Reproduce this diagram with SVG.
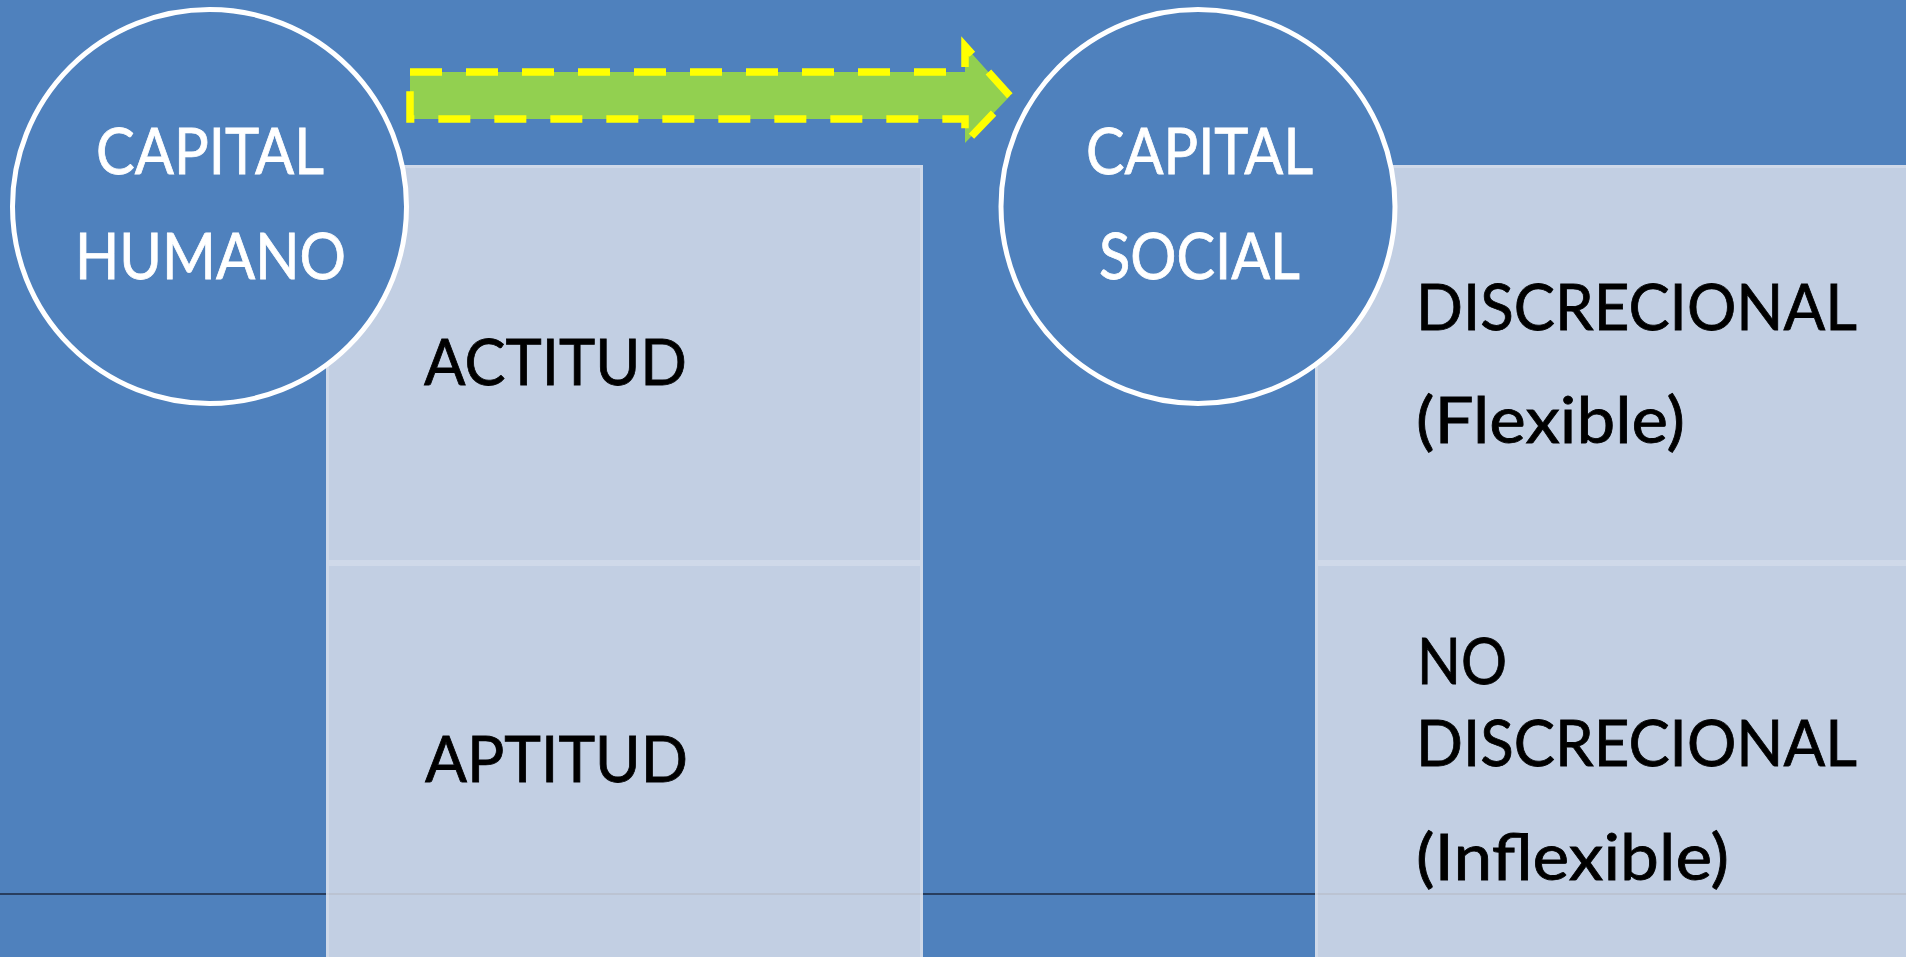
<svg xmlns="http://www.w3.org/2000/svg" width="1906" height="957" viewBox="0 0 1906 957">
<style>
.panel{fill:#DCE1EB;fill-opacity:0.82}
.edge{fill:none;stroke:#FFFFFF;stroke-opacity:0.22;stroke-width:3}
.circ{fill:#4F81BD;stroke:#FFFFFF;stroke-width:5}
.t{font-family:Lato,"Open Sans","Liberation Sans",sans-serif;font-size:64px;stroke-width:0.8}
.w{fill:#FFFFFF;stroke:#FFFFFF}
.b{fill:#000000;stroke:#000000}
.arrow{fill:#92D050;stroke:#FFFF00;stroke-width:7.5;stroke-dasharray:32 24}
</style>
<rect x="0" y="0" width="1906" height="957" fill="#4F81BD"/>
<line x1="0" y1="894" x2="1906" y2="894" stroke="#1B2941" stroke-width="1.6"/>
<g id="left-top">
<rect class="panel" x="326" y="165" width="597" height="398"/>
<rect class="edge" x="327.5" y="166.5" width="594" height="395"/>
<text class="t b" x="424" y="385" textLength="263" lengthAdjust="spacingAndGlyphs">ACTITUD</text>
</g>
<g id="left-bottom">
<rect class="panel" x="326" y="563" width="597" height="420"/>
<rect class="edge" x="327.5" y="564.5" width="594" height="420"/>
<text class="t b" x="425" y="782" textLength="263" lengthAdjust="spacingAndGlyphs">APTITUD</text>
</g>
<g id="right-top">
<rect class="panel" x="1315" y="165" width="620" height="398"/>
<rect class="edge" x="1316.5" y="166.5" width="620" height="395"/>
<text class="t b" x="1416" y="330" textLength="441" lengthAdjust="spacingAndGlyphs">DISCRECIONAL</text>
<text class="t b" x="1416" y="443" textLength="269" lengthAdjust="spacingAndGlyphs">(Flexible)</text>
</g>
<g id="right-bottom">
<rect class="panel" x="1315" y="563" width="620" height="420"/>
<rect class="edge" x="1316.5" y="564.5" width="620" height="420"/>
<text class="t b" x="1417" y="684" textLength="90" lengthAdjust="spacingAndGlyphs">NO</text>
<text class="t b" x="1416" y="766" textLength="441" lengthAdjust="spacingAndGlyphs">DISCRECIONAL</text>
<text class="t b" x="1416" y="880" textLength="313" lengthAdjust="spacingAndGlyphs">(Inflexible)</text>
</g>
<g id="capital-humano">
<circle class="circ" cx="209.5" cy="206.5" r="197"/>
<text class="t w" x="210" y="174" text-anchor="middle" textLength="228" lengthAdjust="spacingAndGlyphs">CAPITAL</text>
<text class="t w" x="210.5" y="279" text-anchor="middle" textLength="271" lengthAdjust="spacingAndGlyphs">HUMANO</text>
</g>
<g id="capital-social">
<circle class="circ" cx="1198" cy="206.5" r="197"/>
<text class="t w" x="1199.5" y="174" text-anchor="middle" textLength="227" lengthAdjust="spacingAndGlyphs">CAPITAL</text>
<text class="t w" x="1199.5" y="279" text-anchor="middle" textLength="201" lengthAdjust="spacingAndGlyphs">SOCIAL</text>
</g>
<g id="connectors">
<path class="arrow" d="M410,72 L965,72 L965,46 L1010,96 L965,143 L965,119 L410,119 Z"/>
</g>
</svg>
